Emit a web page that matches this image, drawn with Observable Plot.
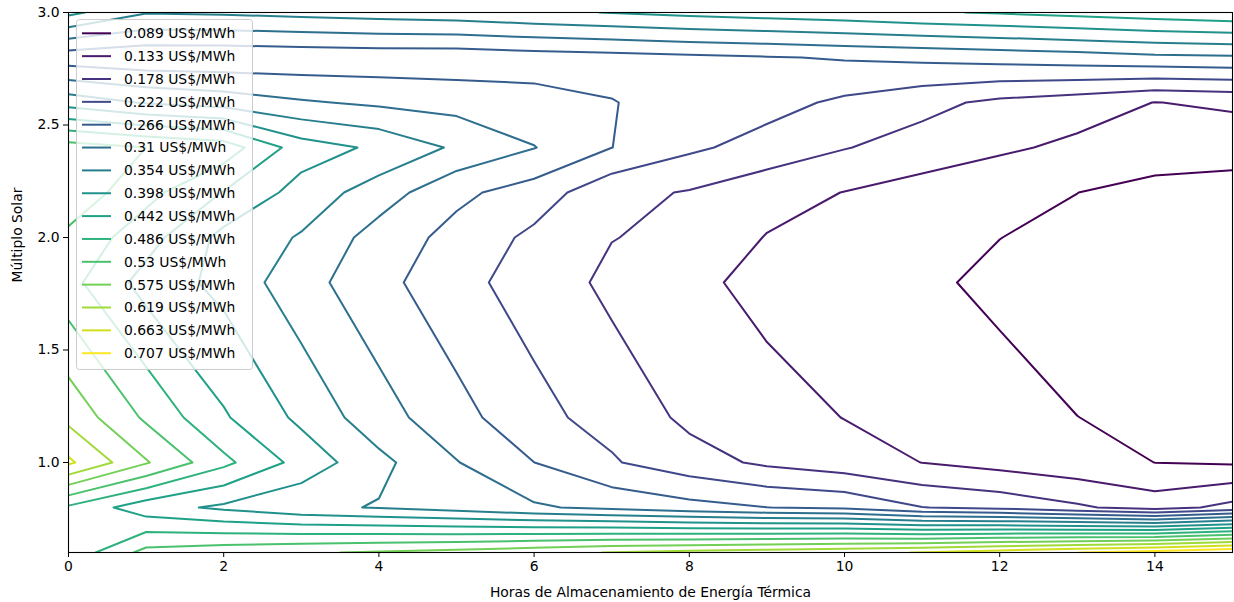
<!DOCTYPE html>
<html>
<head>
<meta charset="utf-8">
<script src="https://cdn.jsdelivr.net/npm/d3@7"></script>
<script src="https://cdn.jsdelivr.net/npm/@observablehq/plot@0.6"></script>
<style>
  html, body { margin: 0; padding: 0; background: #fff; }
  #chart { width: 1234px; height: 602px; }
</style>
</head>
<body>
<div id="chart"></div>
<script>
// Grid axes: hours of thermal storage (columns) and solar multiple (rows)
const storageHours = [0, 1, 2, 3, 4, 5, 6, 7, 8, 9, 10, 11, 12, 13, 14, 15];
const solarMultiple = [0.6, 0.8, 1.0, 1.2, 1.8, 2.0, 2.2, 2.4, 2.6, 2.8, 3.0];

// Cost per grid row (one value per storage hour), from SM 0.6 up to SM 3.0
const cost_sm06 = [0.4545, 0.5444, 0.558, 0.570, 0.580, 0.590, 0.605, 0.621, 0.632, 0.642, 0.652, 0.665, 0.685, 0.7065, 0.725, 0.750];
const cost_sm08 = [0.478, 0.416, 0.3895, 0.365, 0.351, 0.335, 0.3157, 0.299, 0.281, 0.2665, 0.258, 0.2232, 0.210, 0.185, 0.158, 0.192];
const cost_sm10 = [0.671, 0.579, 0.497, 0.426, 0.366, 0.312, 0.2662, 0.226, 0.196, 0.170, 0.153, 0.1325, 0.117, 0.103, 0.0888, 0.084];
const cost_sm12 = [0.607, 0.5225, 0.447, 0.388, 0.327, 0.283, 0.232, 0.209, 0.168, 0.152, 0.132, 0.118, 0.109, 0.0893, 0.080, 0.072];
const cost_sm18 = [0.500, 0.425, 0.385, 0.326, 0.282, 0.232, 0.208, 0.166, 0.145, 0.118, 0.107, 0.098, 0.078, 0.066, 0.055, 0.047];
const cost_sm20 = [0.520, 0.460, 0.385, 0.350, 0.291, 0.252, 0.212, 0.1795, 0.165, 0.131, 0.116, 0.105, 0.0895, 0.076, 0.064, 0.056];
const cost_sm22 = [0.560, 0.500, 0.440, 0.381, 0.332, 0.276, 0.246, 0.190, 0.175, 0.150, 0.132, 0.1134, 0.098, 0.0893, 0.072, 0.071];
const cost_sm24 = [0.550, 0.530, 0.511, 0.419, 0.390, 0.347, 0.3115, 0.2665, 0.230, 0.205, 0.180, 0.160, 0.1405, 0.1235, 0.117, 0.1074];
const cost_sm26 = [0.380, 0.350, 0.335, 0.315, 0.302, 0.294, 0.2815, 0.2676, 0.250, 0.2376, 0.2136, 0.191, 0.168, 0.1535, 0.1322, 0.140];
const cost_sm28 = [0.240, 0.232, 0.232, 0.235, 0.238, 0.238, 0.245, 0.250, 0.257, 0.263, 0.2697, 0.276, 0.283, 0.290, 0.300, 0.303];
const cost_sm30 = [0.409, 0.357, 0.3604, 0.367, 0.374, 0.379, 0.390, 0.3995, 0.410, 0.418, 0.426, 0.437, 0.446, 0.456, 0.466, 0.476];

// Contour levels (US$/MWh)
const levels = [0.089, 0.133, 0.178, 0.222, 0.266, 0.31, 0.354, 0.398, 0.442, 0.486, 0.53, 0.575, 0.619, 0.663, 0.707];

const xLabel = "Horas de Almacenamiento de Energía Térmica";
const yLabel = "Múltiplo Solar";
const unit = "US$/MWh";

// ---- contour lines from the grid (marching squares, linear interpolation) ----
const rows = [cost_sm06, cost_sm08, cost_sm10, cost_sm12, cost_sm18, cost_sm20,
              cost_sm22, cost_sm24, cost_sm26, cost_sm28, cost_sm30];
const nx = storageHours.length, ny = solarMultiple.length;
const values = rows.flat();

// grid coordinate (cell centre at i + 0.5) -> axis value, honouring uneven spacing
function toAxis(axis, c) {
  const t = c - 0.5;
  const i = Math.max(0, Math.min(axis.length - 2, Math.floor(t)));
  return axis[i] + (t - i) * (axis[i + 1] - axis[i]);
}

const gen = d3.contours().size([nx, ny]).smooth(true);
const onBorder = p => p[0] <= 0 || p[0] >= nx || p[1] <= 0 || p[1] >= ny;
const linePts = [];
let seg = 0;
for (const level of levels) {
  const mp = gen.contour(values, level);
  for (const polygon of mp.coordinates) {
    for (const ring of polygon) {
      let pts = ring.slice();
      const a = pts[0], b = pts[pts.length - 1];
      if (a[0] === b[0] && a[1] === b[1]) pts.pop();
      const start = pts.findIndex(onBorder);
      const runs = [];
      if (start < 0) {
        runs.push(pts.concat([pts[0]]));
      } else {
        const rot = pts.slice(start).concat(pts.slice(0, start));
        rot.push(rot[0]);
        let cur = [];
        for (const p of rot) {
          if (onBorder(p)) { if (cur.length > 1) runs.push(cur); cur = []; }
          else cur.push(p);
        }
        if (cur.length > 1) runs.push(cur);
      }
      for (const run of runs) {
        for (const p of run) {
          linePts.push({x: toAxis(storageHours, p[0]), y: toAxis(solarMultiple, p[1]), level, seg});
        }
        seg++;
      }
    }
  }
}

const chart = Plot.plot({
  width: 1234,
  height: 602,
  marginLeft: 68,
  marginRight: 2,
  marginTop: 12,
  marginBottom: 50,
  style: {fontFamily: "DejaVu Sans, sans-serif", fontSize: "13.9px", color: "#000", background: "#fff"},
  x: {domain: [0, 15]},
  y: {domain: [0.6, 3.0]},
  color: {type: "linear", scheme: "viridis", domain: [levels[0], levels[levels.length - 1]]},
  marks: [
    Plot.line(linePts, {x: "x", y: "y", z: "seg", stroke: "level", strokeWidth: 2, curve: "linear", clip: true}),
    Plot.frame({stroke: "#000", strokeWidth: 1.1}),
    Plot.axisX({ticks: [0, 2, 4, 6, 8, 10, 12, 14], tickSize: 5, tickPadding: 4, label: null, tickFormat: d => String(d)}),
    Plot.axisY({ticks: [1.0, 1.5, 2.0, 2.5, 3.0], tickSize: 5, tickPadding: 4, label: null, tickFormat: d3.format(".1f")}),
    Plot.text([xLabel], {frameAnchor: "bottom", dy: 40, text: d => d, lineAnchor: "middle", fill: "#000"}),
    Plot.text([yLabel], {frameAnchor: "left", dx: -51, rotate: -90, text: d => d, lineAnchor: "middle", fill: "#000"})
  ]
});

document.getElementById("chart").appendChild(chart);

// ---- legend box in the upper-left of the axes ----
const color = chart.scale("color");
const svg = d3.select(chart);
const lg = svg.append("g")
  .attr("font-family", "DejaVu Sans, sans-serif")
  .attr("font-size", 13.9)
  .attr("text-anchor", "start");
lg.append("rect")
  .attr("x", 76.5).attr("y", 19.5).attr("width", 176).attr("height", 350).attr("rx", 3)
  .attr("fill", "#fff").attr("fill-opacity", 0.8).attr("stroke", "#cccccc").attr("stroke-width", 1);
levels.forEach((lv, k) => {
  const cy = 33.3 + 22.85 * k;
  lg.append("line").attr("x1", 82).attr("x2", 111).attr("y1", cy).attr("y2", cy)
    .attr("stroke", color.apply(lv)).attr("stroke-width", 2);
  lg.append("text").attr("x", 124).attr("y", cy).attr("dy", "0.35em").attr("fill", "#000")
    .attr("text-anchor", "start")
    .text(`${lv} ${unit}`);
});
</script>
</body>
</html>
